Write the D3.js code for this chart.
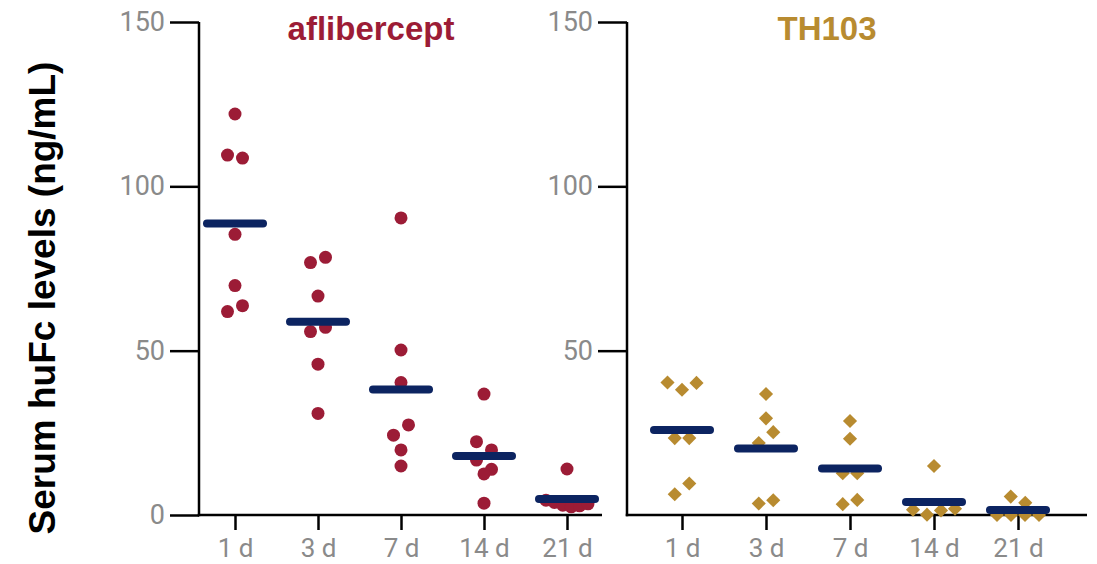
<!DOCTYPE html>
<html><head><meta charset="utf-8">
<script src="https://cdn.jsdelivr.net/npm/d3@7"></script>
<style>body{margin:0;background:#fff}</style>
</head><body>
<svg id="chart" width="1097" height="564"></svg>
<script>
const categories = ["1 d", "3 d", "7 d", "14 d", "21 d"];
const leftYTickValues = [0, 50, 100, 150];
const rightYTickValues = [50, 100, 150];
const afliberceptTitle = "aflibercept";
const th103Title = "TH103";
const yAxisTitle = "Serum huFc levels (ng/mL)";
const afliberceptValues = [
  [122.0, 109.5, 108.6, 85.4, 69.8, 61.9, 63.7],
  [76.8, 78.4, 66.6, 55.8, 57.1, 45.9, 30.9],
  [90.4, 50.2, 40.3, 24.3, 27.4, 19.8, 14.9],
  [36.8, 22.3, 19.8, 16.7, 13.9, 12.5, 3.6],
  [14.0, 4.5, 3.8, 3.0, 2.5, 2.8, 3.4]
];
const th103Values = [
  [40.3, 38.1, 40.2, 23.4, 23.4, 6.3, 9.6],
  [36.8, 29.4, 21.9, 25.2, 3.5, 4.5],
  [28.6, 23.2, 12.7, 12.7, 3.3, 4.6],
  [14.9, 1.6, 0.1, 1.4, 1.9],
  [5.6, 3.7, 0, 0, 0, 0]
];

const svg = d3.select("#chart");
const y = d3.scaleLinear().domain([0, 150]).range([515, 22]);
const AXIS_COLOR = "#000";
const TICK_TEXT = "#8a8a8a";
const NAVY = "#0c2461";

const panels = [
  { title: afliberceptTitle, values: afliberceptValues, yTicks: leftYTickValues, color: "#9c1c36", shape: "circle",
    axisX: 199, axisEnd: 602, first: 235, last: 567, titleX: 371 },
  { title: th103Title, values: th103Values, yTicks: rightYTickValues, color: "#b88b30", shape: "diamond",
    axisX: 627, axisEnd: 1087, first: 682, last: 1018, titleX: 827 }
];

function layout(vals, cx, threshold, spacing, maxWidth) {
  const idx = vals.map((v, i) => i).sort((a, b) => vals[b] - vals[a]);
  const groups = [];
  let cur = null;
  idx.forEach(i => {
    const py = y(vals[i]);
    if (cur && py - cur.y0 < threshold) cur.items.push(i);
    else { cur = { y0: py, items: [i] }; groups.push(cur); }
  });
  const out = [];
  groups.forEach(g => {
    g.items.sort((a, b) => a - b);
    const n = g.items.length;
    const sp = n > 1 ? Math.min(spacing, maxWidth / (n - 1)) : 0;
    g.items.forEach((i, k) => out.push({ v: vals[i], x: cx + (k - (n - 1) / 2) * sp, y: y(vals[i]) }));
  });
  return out;
}

panels.forEach(p => {
  const x = d3.scalePoint().domain(categories).range([p.first, p.last]);
  const g = svg.append("g");

  // Y axis
  const ya = g.append("g").attr("transform", `translate(${p.axisX},0)`)
    .call(d3.axisLeft(y).tickValues(p.yTicks).tickSize(29).tickSizeOuter(0).tickPadding(5));
  ya.select(".domain").attr("d", `M0,${y(0) + 1.25}V${y(150)}`);
  ya.selectAll("path,line").attr("stroke", AXIS_COLOR).attr("stroke-width", 2.5);
  ya.selectAll("text").attr("fill", TICK_TEXT).style("font-family", "Roboto, sans-serif").style("font-size", "27px");

  // X axis
  g.append("line").attr("x1", p.axisX - 1.25).attr("x2", p.axisEnd).attr("y1", y(0)).attr("y2", y(0))
    .attr("stroke", AXIS_COLOR).attr("stroke-width", 2.5);
  const xa = g.append("g").attr("transform", `translate(0,${y(0)})`)
    .call(d3.axisBottom(x).tickSize(15).tickSizeOuter(0));
  xa.select(".domain").remove();
  xa.selectAll("line").attr("stroke", AXIS_COLOR).attr("stroke-width", 2.5);
  xa.selectAll("text").attr("fill", TICK_TEXT).attr("y", 42).attr("dy", null)
    .style("font-family", "Roboto, sans-serif").style("font-size", "26px");

  // Points
  categories.forEach((c, ci) => {
    const vals = p.values[ci];
    const cx = x(c);
    const pts = layout(vals, cx, 12, p.shape === "circle" ? 15 : 14.5, 42);
    if (p.shape === "circle") {
      g.append("g").selectAll("circle").data(pts).join("circle")
        .attr("cx", d => d.x).attr("cy", d => d.y).attr("r", 6.5).attr("fill", p.color);
    } else {
      const sym = d3.symbol(d3.symbolSquare, 100);
      g.append("g").selectAll("path").data(pts).join("path")
        .attr("d", sym).attr("transform", d => `translate(${d.x},${d.y}) rotate(45)`).attr("fill", p.color);
    }
    const m = d3.mean(vals);
    g.append("line").attr("x1", cx - 28).attr("x2", cx + 28).attr("y1", y(m)).attr("y2", y(m))
      .attr("stroke", NAVY).attr("stroke-width", 8).attr("stroke-linecap", "round");
  });

  // Title
  g.append("text").attr("x", p.titleX).attr("y", 40).attr("text-anchor", "middle")
    .attr("fill", p.color).style("font-family", "'Liberation Sans', Arial, sans-serif")
    .style("font-weight", "bold").style("font-size", "33px").text(p.title);
});

svg.append("text").attr("transform", "translate(55,298) rotate(-90)").attr("text-anchor", "middle")
  .attr("fill", "#000").style("font-family", "'Liberation Sans', Arial, sans-serif")
  .style("font-weight", "bold").style("font-size", "37px").text(yAxisTitle);
</script>
</body></html>
